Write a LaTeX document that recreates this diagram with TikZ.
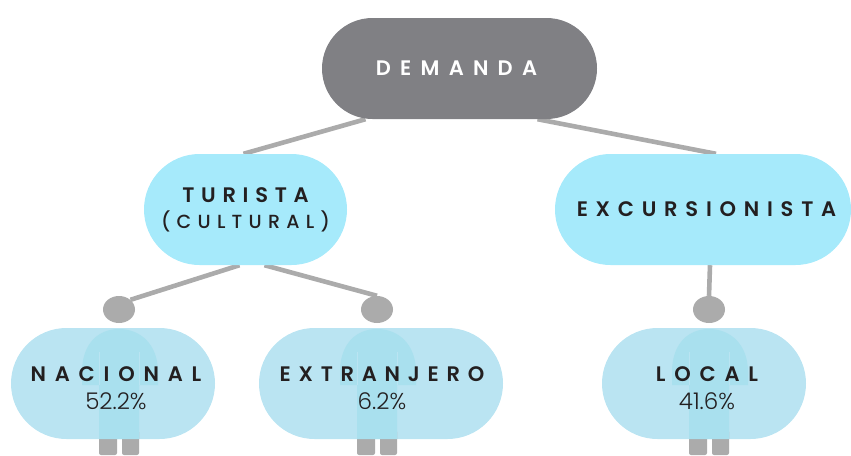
\documentclass[tikz,border=0pt]{standalone}
\usepackage{fontspec}
\setmainfont{Poppins}
\newfontfamily\medfont{Poppins Medium}
\newfontfamily\semifont{Poppins SemiBold}
\newfontfamily\lightfont{Poppins Light}
\newcommand{\spc}[1]{\addfontfeature{LetterSpace=#1}}
\usetikzlibrary{shapes.misc,shapes.geometric,backgrounds}
\definecolor{darkpill}{HTML}{808084}
\definecolor{cyanpill}{HTML}{A6EAFB}
\definecolor{softpill}{HTML}{BAE4F2}
\definecolor{overlap}{HTML}{A9E0EE}
\definecolor{linegray}{HTML}{ABABAB}
\definecolor{inktext}{HTML}{231F20}
\tikzset{
  x=1pt,y=-1pt,
  pill/.style={rounded rectangle,rounded rectangle arc length=180,inner sep=0pt,align=center,text=inktext},
  toppill/.style={pill,fill=darkpill,text=white,minimum width=275pt,minimum height=101pt},
  midpill/.style={pill,fill=cyanpill,minimum height=111pt},
  lowpill/.style={pill,fill=softpill,minimum height=111pt},
  head/.style={ellipse,fill=linegray,minimum width=32pt,minimum height=27pt,inner sep=0pt},
  conn/.style={draw=linegray,line width=4.6pt},
}
\newcommand{\personshape}[1]{%
  \begin{scope}[shift={(#1)}]
    \fill[linegray,rounded corners=2pt] (-20,430) -- (-20,455) -- (-2,455) -- (-2,430) -- cycle;
    \fill[linegray,rounded corners=2pt] (3,430) -- (3,455) -- (20,455) -- (20,430) -- cycle;
    \fill[overlap] (-20,439) -- (-20,385) -- (-37,385) -- (-37,372) .. controls (-37,345) and (-22,329) .. (0,329)
       .. controls (22,329) and (39,345) .. (39,372) -- (39,385) -- (20,385) -- (20,439) -- cycle;
    \draw[softpill,line width=1pt] (-20,352) -- (-20,385) (20,352) -- (20,385);
  \end{scope}}
\begin{document}
\begin{tikzpicture}
\useasboundingbox (0,0) rectangle (851,455);
\clip (0,0) rectangle (851,455);
\node[toppill] (demanda) at (459.5,68.5) {};
\node[text=white] (demandatext) at (456.5,68.5) {\fontsize{21}{24}\semifont\spc{44} DEMANDA};
\node[midpill,minimum width=203pt] (turista) at (245.5,209.5) {\fontsize{21}{27}\semifont\spc{32} TURISTA\\[7pt]\fontsize{19}{24}\medfont\spc{33} (CULTURAL)};
\node[midpill,minimum width=296pt] (excursion) at (703,209.5) {};
\node[text=inktext] (excursiontext) at (706.5,209) {\fontsize{21}{27}\semifont\spc{37} EXCURSIONISTA};
\node[lowpill,minimum width=204pt] (nacional) at (113,383.5) {};
\node[lowpill,minimum width=244pt] (extranjero) at (381,383.5) {};
\node[lowpill,minimum width=204pt] (local) at (704,383.5) {};
\node[head] (headn) at (119,309.5) {};
\node[head] (heade) at (377,309.5) {};
\node[head] (headl) at (709,309.5) {};
\personshape{119,0}
\personshape{377,0}
\personshape{709,0}
\node[text=inktext,align=center] (tn) at (116,388) {\fontsize{21}{27}\semifont\spc{42} NACIONAL\\[9.5pt]\fontsize{23}{24}\lightfont 52.2\%};
\node[text=inktext,align=center] (te) at (382,388) {\fontsize{21}{27}\semifont\spc{37} EXTRANJERO\\[9.5pt]\fontsize{23}{24}\lightfont 6.2\%};
\node[text=inktext,align=center] (tl) at (707,388) {\fontsize{21}{27}\semifont\spc{42} LOCAL\\[9.5pt]\fontsize{23}{24}\lightfont 41.6\%};
\begin{scope}[on background layer]
\draw[conn] ([xshift=-94pt]demanda.south) -- ([xshift=-2pt]turista.north);
\draw[conn] ([xshift=78pt]demanda.south) -- ([xshift=13pt]excursion.north);
\draw[conn] ([xshift=-6pt]turista.south) -- (headn.north east);
\draw[conn] ([xshift=19pt]turista.south) -- (heade.north);
\draw[conn] ([xshift=7pt]excursion.south) -- (headl.north);
\end{scope}
\end{tikzpicture}
\end{document}
